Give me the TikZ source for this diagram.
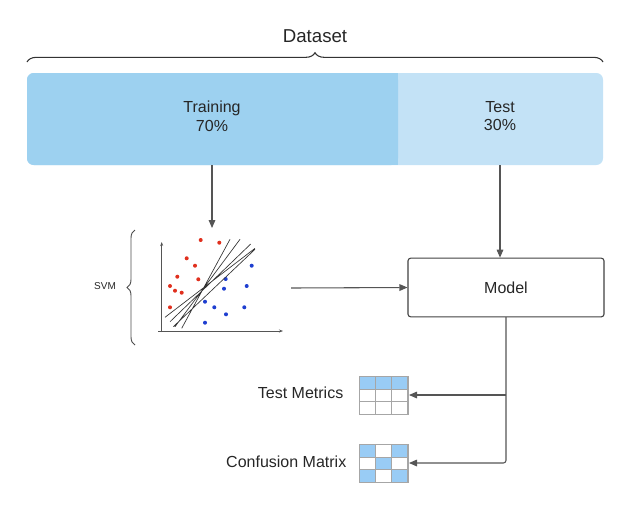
\documentclass[tikz,border=0pt]{standalone}
\usepackage{fontspec}
\setmainfont{Liberation Sans}
\usetikzlibrary{decorations.pathreplacing,arrows.meta}
\definecolor{trainc}{HTML}{9DD1F0}
\definecolor{testc}{HTML}{C3E2F6}
\definecolor{cellc}{HTML}{99CCF5}
\definecolor{dred}{HTML}{E0301E}
\definecolor{dblue}{HTML}{1F3FD0}
\definecolor{lgray}{HTML}{555555}
\tikzset{
 conn/.style={draw=lgray,line width=0.8pt,-{Triangle[length=6pt,width=5pt]}},
 lbl/.style={font=\fontsize{12}{14}\selectfont,text=black!85},
 rdot/.style={circle,fill=dred,inner sep=0pt,minimum size=3pt},
 bdot/.style={circle,fill=dblue,inner sep=0pt,minimum size=3pt},
 cell/.style={draw=gray!70,line width=0.5pt},
}
\begin{document}
\begin{tikzpicture}[x=0.75pt,y=-0.75pt]
\useasboundingbox (0,0) rectangle (623,508);
% dataset brace
\draw[decorate,decoration={brace,amplitude=7pt},line width=0.8pt,black!80] (27,62) -- (603,62);
\node[font=\fontsize{14}{16}\selectfont,text=black!85] (ds) at (315,36) {Dataset};
% boxes
\fill[testc,rounded corners=5pt] (27,73) rectangle (603,165);
\fill[trainc,rounded corners=5pt] (27,73) rectangle (398,165);
\fill[trainc] (380,73) rectangle (398,165);
\node[lbl,align=center] (train) at (212,116) {Training\\70\%};
\node[lbl,align=center] (test) at (500,116) {Test\\30\%};
\coordinate (trb) at (212,165);
\coordinate (teb) at (500,165);
% svm plot
\coordinate (svmtop) at (212,228);
\draw[conn] (trb) -- (svmtop);
\draw[lgray,line width=0.6pt,-{Stealth[length=3pt]}] (161.7,332) -- (161.7,242);
\draw[lgray,line width=0.6pt,-{Stealth[length=3pt]}] (158,331) -- (283,331);
\foreach \p in {(200.7,240),(219.3,242.7),(186.7,258.3),(195,265.7),(177.3,276.7),(198.3,279.3),(170,286),(175,290.7),(181.7,292.7),(170,307.3)} \node[rdot] at \p {};
\foreach \p in {(251.7,265.7),(225.7,279),(224,288.7),(246.7,286),(205,301.7),(214.3,307.3),(244.3,307.3),(226,314.3),(205,322.7)} \node[bdot] at \p {};
\draw[black!80,line width=0.5pt] (165,317.3)--(255,248.3) (170,321.7)--(250.7,244) (175,326.7)--(240,239.3) (181.7,328.3)--(230,239.3) (173.3,326.7)--(255,249.3);
\draw[decorate,decoration={brace,amplitude=6pt},line width=0.7pt,black!70] (135,345) -- (135,230);
\node[font=\fontsize{7.5}{9}\selectfont,text=black!85] (svm) at (105,286) {SVM};
% model
\node[draw=black!75,line width=0.8pt,rounded corners=2pt,minimum width=147pt,minimum height=44pt,lbl] (model) at (506,287.5) {Model};
\coordinate (svmr) at (291,288);
\draw[conn] (svmr) -- (model.west);
\draw[conn] (teb) -- (model.north -| teb);
% tables
\foreach \i in {0,1,2} \fill[cellc] (359+\i*16.3,376) rectangle ++(16.3,12.7);
\foreach \i/\j in {0/0,2/0,1/1,0/2,2/2} \fill[cellc] (359+\i*16.3,444+\j*13) rectangle ++(16.3,13);
\foreach \y in {376,444} {
 \draw[cell] (359,\y) grid[xstep=16.3,ystep=12.9] (408,\y+38.7);
 \draw[cell] (359,\y) rectangle (408,\y+38.7);
 \foreach \k in {1,2} {\draw[cell] (359+\k*16.3,\y) -- (359+\k*16.3,\y+38.7); \draw[cell] (359,\y+\k*12.9) -- (408,\y+\k*12.9);}
}
\node[inner sep=0pt] (tm) at (383.5,395) {};
\node[inner sep=0pt] (cm) at (383.5,463) {};
\node[lbl,anchor=east] (tml) at (348,393) {Test Metrics};
\node[lbl,anchor=east] (cml) at (351,462) {Confusion Matrix};
\coordinate (mb) at (506,317);
\draw[conn,rounded corners=2pt] (mb) -- (506,463) -- (409,463);
\draw[conn] (506,395) -- (409,395);
\end{tikzpicture}
\end{document}
